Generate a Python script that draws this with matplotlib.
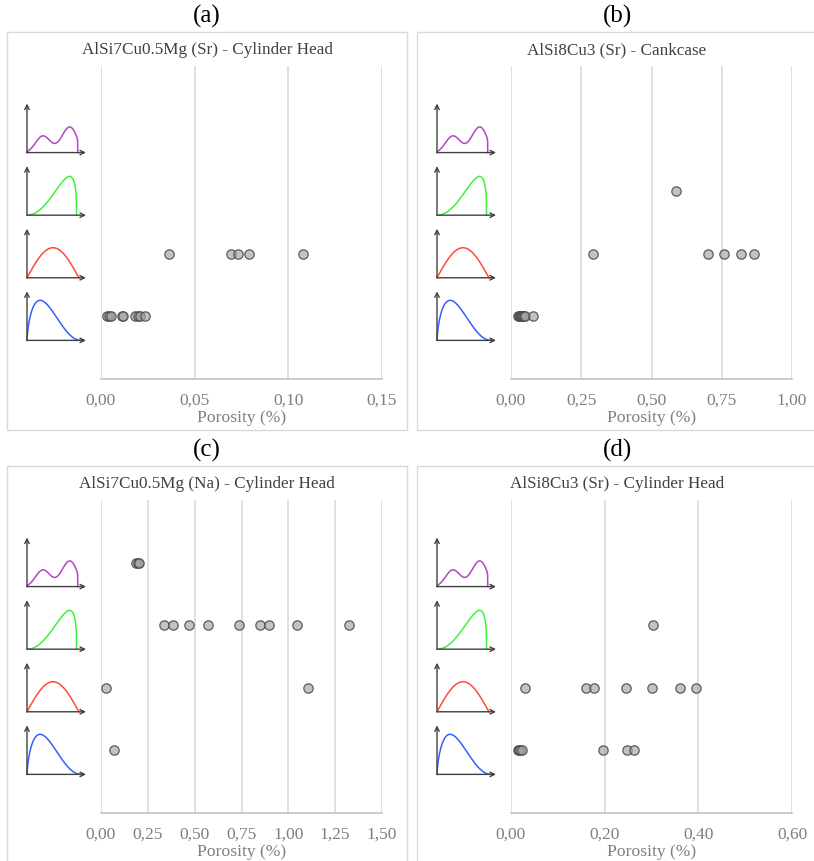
import matplotlib
matplotlib.use("Agg")
import matplotlib.pyplot as plt
import numpy as np
from matplotlib.patches import Rectangle

# ---- data: porosity (%) per distribution class ----
# row order (bottom to top): right-skewed, symmetric, left-skewed, bimodal
a_blue = [0.0030, 0.0044, 0.0055, 0.0110, 0.0119, 0.0181, 0.0195, 0.0207, 0.0234]
a_red = [0.0362, 0.0695, 0.0732, 0.0789, 0.1076]
a_green = []
a_purple = []

b_blue = [0.025, 0.028, 0.031, 0.034, 0.037, 0.040, 0.043, 0.047, 0.050, 0.078]
b_red = [0.292, 0.700, 0.758, 0.817, 0.866]
b_green = [0.587]
b_purple = []

c_blue = [0.068]
c_red = [0.027, 1.107]
c_green = [0.338, 0.383, 0.470, 0.570, 0.738, 0.847, 0.895, 1.045, 1.326]
c_purple = [0.185, 0.195, 0.201]

d_blue = [0.015, 0.018, 0.020, 0.024, 0.197, 0.247, 0.262]
d_red = [0.030, 0.161, 0.178, 0.246, 0.301, 0.361, 0.394]
d_green = [0.304]
d_purple = []

titles = ["AlSi7Cu0.5Mg (Sr) - Cylinder Head", "AlSi8Cu3 (Sr) - Cankcase",
          "AlSi7Cu0.5Mg (Na) - Cylinder Head", "AlSi8Cu3 (Sr) - Cylinder Head"]
letters = ["(a)", "(b)", "(c)", "(d)"]
xticks = [[0.0, 0.05, 0.10, 0.15],
          [0.0, 0.25, 0.50, 0.75, 1.00],
          [0.0, 0.25, 0.50, 0.75, 1.00, 1.25, 1.50],
          [0.0, 0.20, 0.40, 0.60]]
series = [[a_blue, a_red, a_green, a_purple],
          [b_blue, b_red, b_green, b_purple],
          [c_blue, c_red, c_green, c_purple],
          [d_blue, d_red, d_green, d_purple]]
rows = [1, 2, 3, 4]

SERIF = "Liberation Serif"
W, H = 814, 861
fig = plt.figure(figsize=(W / 100, H / 100), dpi=100)


def box(x0, y0, x1, y1):
    return [x0 / W, 1 - y1 / H, (x1 - x0) / W, (y1 - y0) / H]


def bimodal(u):
    env = u ** 0.25 * (1 - u) ** 0.1
    return env * (0.72 * np.exp(-((u - 0.30) / 0.21) ** 2)
                  + np.exp(-((u - 0.85) / 0.23) ** 2))


# distribution sketches used as row labels: (colour, shape, end, height)
shapes = [
    ("#3a5cff", lambda u: u ** 0.7 * (1 - u) ** 2.2, 0.92, 0.64),
    ("#ff4a3a", lambda u: np.sin(np.pi * u), 0.88, 0.48),
    ("#3df23d", lambda u: u ** 2.15 * (1 - u) ** 0.35, 0.84, 0.62),
    ("#b048c0", bimodal, 0.86, 0.41),
]

offsets = [(0, 0), (410, 0), (0, 434), (410, 434)]
arrow_kw = dict(arrowstyle="->", color="#404040", lw=1.0, shrinkA=0, shrinkB=0,
                mutation_scale=8)

for k in range(4):
    ox, oy = offsets[k]
    # panel frame
    fig.patches.append(Rectangle(((7 + ox) / W, 1 - (430 + oy) / H), 400 / W, 398 / H,
                                 transform=fig.transFigure, fill=False,
                                 edgecolor="#d9d9d9", lw=1.0))
    fig.text((207 + ox) / W, 1 - (16 + oy) / H, letters[k], ha="center", va="center",
             fontsize=18, family=SERIF, color="black")
    fig.text((207 + ox) / W, 1 - (50 + oy) / H, titles[k], ha="center", va="center",
             fontsize=12.3, family=SERIF, color="#404040")

    ax = fig.add_axes(box(101 + ox, 66 + oy, 382 + ox, 379 + oy))
    xmax = xticks[k][-1]
    ax.set_xlim(0, xmax)
    ax.set_ylim(0, 5)
    ax.set_xticks(xticks[k])
    ax.set_xticklabels([f"{t:.2f}".replace(".", ",") for t in xticks[k]])
    ax.set_yticks([])
    ax.tick_params(axis="x", length=0, pad=10, labelsize=12.5, labelcolor="#7f7f7f")
    for lab in ax.get_xticklabels():
        lab.set_family(SERIF)
    ax.grid(axis="x", color="#d9d9d9", lw=1.1)
    ax.set_axisbelow(True)
    for s in ["top", "left", "right"]:
        ax.spines[s].set_visible(False)
    ax.spines["bottom"].set_color("#bfbfbf")
    ax.spines["bottom"].set_linewidth(1.1)
    ax.set_xlabel("Porosity (%)", family=SERIF, fontsize=12.6, color="#7f7f7f",
                  labelpad=0.5)

    for r, vals in zip(rows, series[k]):
        if vals:
            ax.scatter(vals, [r] * len(vals), s=45, facecolor=(0.64, 0.64, 0.64, 0.65),
                       edgecolor=(0.3, 0.3, 0.3, 0.9), lw=0.9, zorder=3, clip_on=False)

    # sketches of the distribution types
    iax = fig.add_axes(box(27 + ox, 66 + oy, 86 + ox, 379 + oy))
    iax.set_xlim(0, 1)
    iax.set_ylim(0, 5)
    iax.axis("off")
    u = np.linspace(0, 1, 400)
    for r, (col, fn, end, hgt) in zip(rows, shapes):
        base = r - 0.383
        yv = fn(u)
        yv = yv / yv.max() * hgt
        iax.plot(np.r_[u * end, end], np.r_[base + yv, base], color=col, lw=1.1,
                 clip_on=False, zorder=2)
        iax.annotate("", xy=(0, r + 0.40), xytext=(0, base), arrowprops=arrow_kw)
        iax.annotate("", xy=(1, base), xytext=(0, base), arrowprops=arrow_kw)

fig.savefig("out.png", dpi=100, facecolor="white")
